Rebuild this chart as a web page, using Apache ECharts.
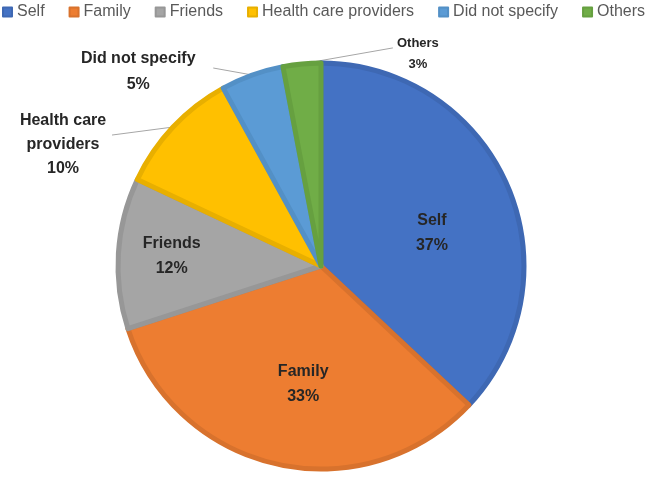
<!DOCTYPE html>
<html><head><meta charset="utf-8">
<script src="https://cdn.jsdelivr.net/npm/echarts@6/dist/echarts.min.js"></script>
<style>html,body{margin:0;padding:0;background:#fff}#c{width:654px;height:480px}</style>
</head><body><div id="c"></div>
<script>
const categories = ["Self", "Family", "Friends", "Health care providers", "Did not specify", "Others"];
const values = [37, 33, 12, 10, 5, 3];
const colors = ["#4472C4", "#ED7D31", "#A5A5A5", "#FFC000", "#5B9BD5", "#70AD47"];
const borders = ["#3E68B3", "#D8722D", "#979797", "#E8AF00", "#5390C6", "#66A040"];
const labelText = ["Self", "Family", "Friends", "Health care\nproviders", "Did not specify", "Others"];
const insideSet = [true, true, true, false, false, false];
const labelSizes = [16, 16, 16, 16, 16, 13];
const lineHeights = [25, 25, 25, 24, 26, 21];
// inside labels: offset from default; outside labels: label centre and leader end relative to leader start
const labelShift = [[15, 9], [5, 16], [-45, -3], [-110, 18], [-114, -3], [116, -10]];
const leaderEnd = [null, null, null, [-61, 8], [-39, -7], [91, -16]];

const chart = echarts.init(document.getElementById('c'));
const data = categories.map((name, i) => ({
  name: name,
  value: values[i],
  itemStyle: { color: colors[i], borderColor: borders[i], borderWidth: 5 },
  label: {
    position: insideSet[i] ? 'inside' : 'outside',
    fontSize: labelSizes[i],
    lineHeight: lineHeights[i],
    formatter: labelText[i] + '\n' + values[i] + '%'
  },
  labelLine: { show: !insideSet[i] }
}));
chart.setOption({
  animation: false,
  legend: {
    top: 4, left: 2, padding: 0, itemWidth: 9, itemHeight: 9, itemGap: 24,
    icon: 'rect',
    textStyle: { color: '#595959', fontSize: 16, fontFamily: 'Liberation Sans' },
    data: categories
  },
  series: [{
    type: 'pie',
    center: [321, 266],
    radius: 203,
    startAngle: 90,
    clockwise: true,
    data: data,
    label: {
      color: '#262626', fontWeight: 'bold', fontFamily: 'Liberation Sans',
      align: 'center', overflow: 'none'
    },
    labelLine: { length: 18, length2: 40, lineStyle: { color: '#A6A6A6', width: 1 } },
    labelLayout: function (p) {
      const i = p.dataIndex;
      const s = labelShift[i];
      if (insideSet[i]) return { dx: s[0], dy: s[1] };
      const pts = p.labelLinePoints;
      if (!pts) return {};
      const st = pts[0];
      const e = leaderEnd[i];
      return {
        x: st[0] + s[0], y: st[1] + s[1], align: 'center', verticalAlign: 'middle',
        labelLinePoints: [[st[0], st[1]], [st[0] + e[0], st[1] + e[1]], [st[0] + e[0], st[1] + e[1]]]
      };
    },
    emphasis: { disabled: true }
  }]
});
</script></body></html>
